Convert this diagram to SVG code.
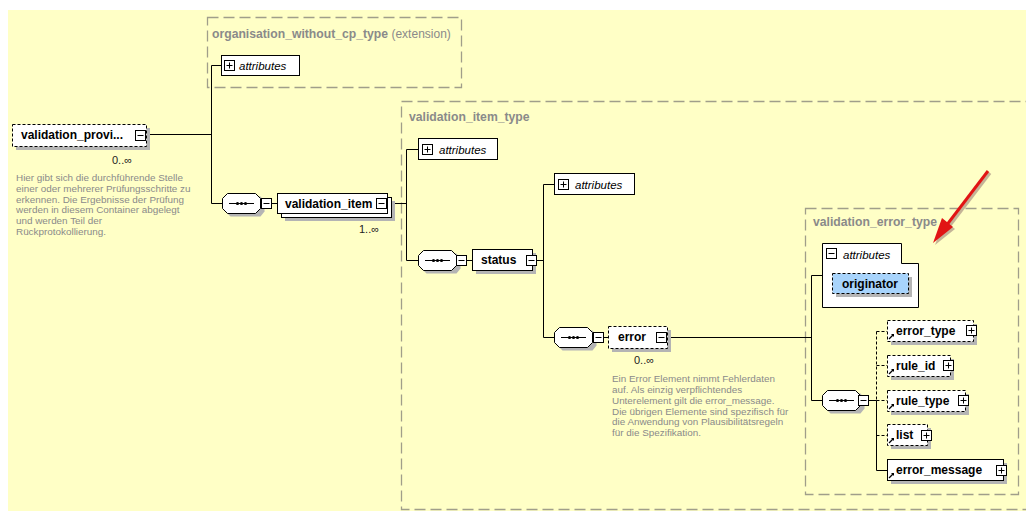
<svg xmlns="http://www.w3.org/2000/svg" width="1026" height="511" viewBox="0 0 1026 511">
<style>
.bg{fill:#FFFFC6}
.tbox{fill:none;stroke:#A09E8A;stroke-width:1.3;stroke-dasharray:11 5}
.ttl{font-family:"Liberation Sans",Arial,sans-serif;font-size:12.2px;font-weight:bold;fill:#8A8A8A}
.ttlr{font-family:"Liberation Sans",Arial,sans-serif;font-size:12px;fill:#8A8A8A}
.box{fill:#fff;stroke:#000;stroke-width:1}
.opt{fill:#fff;stroke:#000;stroke-width:1;stroke-dasharray:3 2}
.sh{fill:#B4B4B4}
.nm{font-family:"Liberation Sans",Arial,sans-serif;font-size:12px;font-weight:bold;fill:#000}
.at{font-family:"Liberation Sans",Arial,sans-serif;font-size:11.5px;font-style:italic;fill:#000}
.desc{font-family:"Liberation Sans",Arial,sans-serif;font-size:9.9px;fill:#8A8A8A}
.occ{font-family:"Liberation Sans",Arial,sans-serif;font-size:11px;fill:#222}
.ln{fill:none;stroke:#000;stroke-width:1}
.dl{fill:none;stroke:#000;stroke-width:1;stroke-dasharray:3 2}
</style>
<defs>
<g id="minus"><rect x="0.5" y="0.5" width="10" height="10" fill="#fff" stroke="#000"/><line x1="2.5" y1="5.5" x2="8.5" y2="5.5" stroke="#000"/></g>
<g id="plus"><rect x="0.5" y="0.5" width="10" height="10" fill="#fff" stroke="#000"/><line x1="2.5" y1="5.5" x2="8.5" y2="5.5" stroke="#000"/><line x1="5.5" y1="2.5" x2="5.5" y2="8.5" stroke="#000"/></g>
<g id="seq">
<polygon points="8.5,3.5 38.5,3.5 42.5,8.5 42.5,18.5 38.5,23.5 8.5,23.5 3.5,18.5 3.5,8.5" class="sh"/>
<polygon points="5.5,0.5 33.5,0.5 38.5,5.5 38.5,15.5 33.5,20.5 5.5,20.5 0.5,15.5 0.5,5.5" fill="#fff" stroke="#000"/>
<line x1="7" y1="10.5" x2="32" y2="10.5" stroke="#000"/>
<circle cx="15.5" cy="10.5" r="1.6"/><circle cx="19.5" cy="10.5" r="1.6"/><circle cx="23.5" cy="10.5" r="1.6"/>
</g>
<g id="ref"><path d="M1,6 L5,2" stroke="#000" stroke-width="1.2"/><polygon points="3,1 6,1 6,4" fill="#000"/></g>
</defs>

<rect x="0" y="0" width="1026" height="511" fill="#fff"/>
<rect class="bg" x="8" y="10" width="1018" height="501"/>

<g id="type-boxes">
<rect class="tbox" x="207.5" y="17.5" width="254" height="70"/>
<text x="212" y="38" class="ttl">organisation_without_cp_type <tspan class="ttlr" font-weight="normal">(extension)</tspan></text>
<rect class="tbox" x="401.5" y="101.5" width="640" height="408"/>
<text x="409" y="121" class="ttl">validation_item_type</text>
<rect class="tbox" x="805.5" y="208.5" width="213" height="286"/>
<text x="813" y="226" class="ttl">validation_error_type</text>
</g>

<g id="connectors">
<path class="ln" d="M146,134.5 H211.5 M211.5,65.5 V203.5 M211.5,65.5 H221 M211.5,203.5 H222 M270,203.5 H277 M391,203.5 H406.5"/>
<path class="ln" d="M406.5,149.5 V260.5 M406.5,149.5 H418 M406.5,260.5 H418 M466,260.5 H472 M537,260.5 H543.5 M543.5,184.5 V337.5 M543.5,184.5 H554 M543.5,337.5 H554 M603,337.5 H608 M667,337.5 H811.5"/>
<path class="ln" d="M811.5,275.5 V400.5 M811.5,275.5 H822 M811.5,400.5 H822 M868,400.5 H876.5 M876.5,400.5 V470.5 M876.5,470.5 H887"/>
<path class="dl" d="M876.5,331.5 V400.5 M876.5,331.5 H887 M876.5,365.5 H887 M876.5,400.5 H887 M876.5,435.5 H887"/>
</g>

<g id="validation_provider">
<rect class="sh" x="16" y="128" width="134" height="22"/>
<rect class="opt" x="12.5" y="124.5" width="134" height="22"/>
<text x="21" y="139" class="nm">validation_provi...</text>
<use href="#minus" x="135" y="130"/>
<text x="112" y="164" class="occ">0..∞</text>
<text class="desc"><tspan x="16" y="181">Hier gibt sich die durchführende Stelle</tspan><tspan x="16" y="192">einer oder mehrerer Prüfungsschritte zu</tspan><tspan x="16" y="202.5">erkennen. Die Ergebnisse der Prüfung</tspan><tspan x="16" y="213">werden in diesem Container abgelegt</tspan><tspan x="16" y="224">und werden Teil der</tspan><tspan x="16" y="235">Rückprotokollierung.</tspan></text>
</g>

<g id="org_attributes">
<rect class="box" x="221.5" y="55.5" width="78" height="20"/>
<use href="#plus" x="224" y="60"/>
<text x="239" y="70" class="at">attributes</text>
</g>

<g id="seq1">
<use href="#seq" x="222" y="193"/>
<use href="#minus" x="261" y="198"/>
</g>

<g id="validation_item">
<rect class="sh" x="285" y="201" width="110" height="20"/>
<rect class="box" x="281.5" y="197.5" width="110" height="20"/>
<rect class="box" x="277.5" y="193.5" width="110" height="20"/>
<text x="285" y="208" class="nm">validation_item</text>
<use href="#minus" x="376" y="198"/>
<text x="359" y="233" class="occ">1..∞</text>
</g>

<g id="vit_attributes">
<rect class="box" x="418.5" y="138.5" width="79" height="21"/>
<use href="#plus" x="422" y="144"/>
<text x="439" y="154" class="at">attributes</text>
</g>

<g id="seq2">
<use href="#seq" x="418" y="250"/>
<use href="#minus" x="456" y="255"/>
</g>

<g id="status">
<rect class="sh" x="476" y="253" width="60" height="21"/>
<rect class="box" x="472.5" y="249.5" width="60" height="21"/>
<text x="481" y="264" class="nm">status</text>
<use href="#minus" x="526" y="255"/>
</g>

<g id="status_attributes">
<rect class="box" x="554.5" y="173.5" width="80" height="21"/>
<use href="#plus" x="558" y="179"/>
<text x="575" y="189" class="at">attributes</text>
</g>

<g id="seq3">
<use href="#seq" x="554" y="327"/>
<use href="#minus" x="593" y="332"/>
</g>

<g id="error">
<rect class="sh" x="612" y="330" width="59" height="22"/>
<rect class="opt" x="608.5" y="326.5" width="59" height="22"/>
<text x="618" y="341" class="nm">error</text>
<use href="#minus" x="656" y="332"/>
<text x="634" y="364" class="occ">0..∞</text>
<text class="desc"><tspan x="612" y="382">Ein Error Element nimmt Fehlerdaten</tspan><tspan x="612" y="393">auf. Als einzig verpflichtendes</tspan><tspan x="612" y="404">Unterelement gilt die error_message.</tspan><tspan x="612" y="414.5">Die übrigen Elemente sind spezifisch für</tspan><tspan x="612" y="425">die Anwendung von Plausibilitätsregeln</tspan><tspan x="612" y="436">für die Spezifikation.</tspan></text>
</g>

<g id="vet_attributes">
<path class="box" d="M822.5,243.5 H901.5 V263.5 H918.5 V307.5 H822.5 Z"/>
<use href="#minus" x="826" y="248"/>
<text x="843" y="259" class="at">attributes</text>
</g>

<g id="originator">
<rect class="sh" x="836" y="277" width="76" height="20"/>
<rect x="832.5" y="273.5" width="76" height="20" fill="#A8D4FC" stroke="#000" stroke-dasharray="3 2"/>
<text x="842" y="288" class="nm">originator</text>
</g>

<g id="seq4">
<use href="#seq" x="822" y="390"/>
<use href="#minus" x="858" y="395"/>
</g>

<g id="error_type">
<rect class="sh" x="891" y="324" width="86" height="21"/>
<rect class="opt" x="887.5" y="320.5" width="86" height="21"/>
<use href="#ref" x="888" y="333"/>
<text x="896" y="335" class="nm">error_type</text>
<use href="#plus" x="966" y="325"/>
</g>

<g id="rule_id">
<rect class="sh" x="891" y="359" width="63" height="21"/>
<rect class="opt" x="887.5" y="355.5" width="63" height="21"/>
<use href="#ref" x="888" y="368"/>
<text x="896" y="370" class="nm">rule_id</text>
<use href="#plus" x="943" y="360"/>
</g>

<g id="rule_type">
<rect class="sh" x="891" y="394" width="78" height="21"/>
<rect class="opt" x="887.5" y="390.5" width="78" height="21"/>
<use href="#ref" x="888" y="403"/>
<text x="896" y="405" class="nm">rule_type</text>
<use href="#plus" x="958" y="395"/>
</g>

<g id="list">
<rect class="sh" x="891" y="428" width="40" height="21"/>
<rect class="opt" x="887.5" y="424.5" width="40" height="21"/>
<use href="#ref" x="888" y="437"/>
<text x="896" y="439" class="nm">list</text>
<use href="#plus" x="921" y="430"/>
</g>

<g id="error_message">
<rect class="sh" x="891" y="463" width="116" height="21"/>
<rect class="box" x="887.5" y="459.5" width="116" height="21"/>
<use href="#ref" x="888" y="472"/>
<text x="896" y="474" class="nm">error_message</text>
<use href="#plus" x="996" y="465"/>
</g>

<g id="red_arrow">
<line x1="990" y1="173" x2="948" y2="228" stroke="#8a6a6a" stroke-width="3" opacity="0.5"/>
<polygon points="935,245 944,220 955,229" fill="#8a6a6a" opacity="0.5"/>
<line x1="988" y1="171" x2="946" y2="226" stroke="#E11414" stroke-width="3"/>
<polygon points="933,243 942,218 953,227" fill="#E11414"/>
</g>
</svg>
